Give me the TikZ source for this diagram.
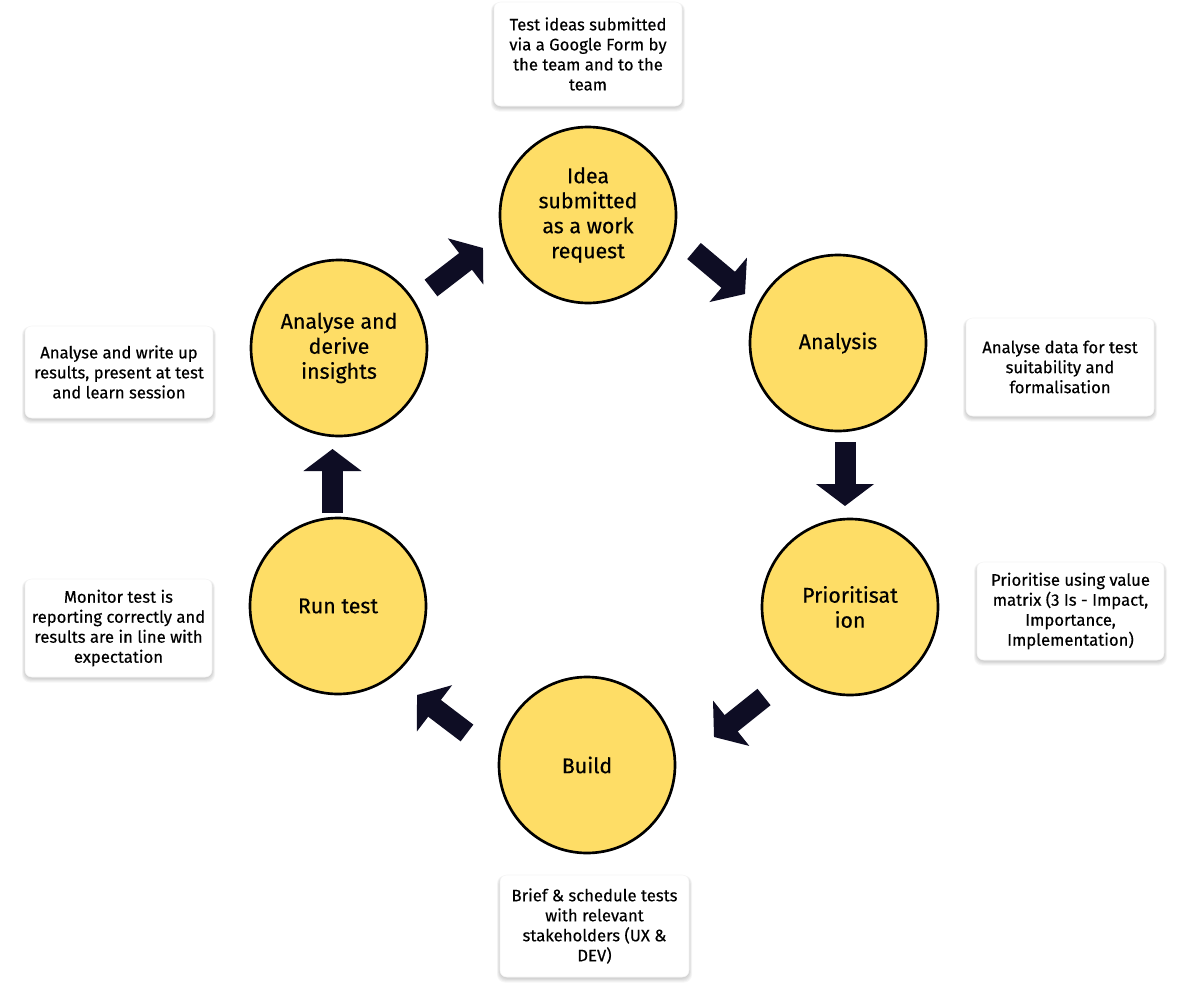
\documentclass[tikz,border=0pt]{standalone}
\usepackage{fontspec}
\setmainfont{Fira Sans}[FakeBold=0.35]
\usetikzlibrary{arrows.meta,calc}
\definecolor{circfill}{RGB}{254,221,102}
\definecolor{arrowcol}{RGB}{14,13,36}
\tikzset{
 stage/.style={circle, draw=black, line width=2pt, fill=circfill, minimum size=132pt, inner sep=0pt, align=center, font=\fontsize{16}{18.75}\selectfont},
 note/.style={rectangle, rounded corners=5pt, fill=white, draw=black!4, line width=0.4pt, inner sep=0pt, align=center, font=\fontsize{12.5}{15}\selectfont},
 flow/.style={arrowcol, line width=15.75pt, -{Triangle[length=16.5pt, width=42.75pt]}},
}
\newcommand\notebox[6]{%
 \foreach \k in {1,...,5}{\fill[black, opacity=0.035, rounded corners=6pt] ({#2-#4/2-\k*0.6},{#3-#5/2+2-\k*0.3}) rectangle ({#2+#4/2+\k*0.6},{#3+#5/2+1+\k*0.9});}
 \node[note, minimum width=#4*0.75pt, minimum height=#5*0.75pt] (#1) at (#2,#3) {#6};
}
\begin{document}
\begin{tikzpicture}[x=0.75pt,y=-0.75pt]
\useasboundingbox[fill=white] (0,0) rectangle (1190,989);
% stages
\node[stage] (idea) at (588,215) {Idea\\submitted\\as a work\\request};
\node[stage] (analysis) at (838,343) {Analysis};
\node[stage] (prior) at (850,607) {Prioritisat\\ion};
\node[stage] (build) at (587,765) {Build};
\node[stage] (run) at (338,606) {Run test};
\node[stage] (insight) at (339,348) {Analyse and\\derive\\insights};
% notes
\notebox{nidea}{588}{54}{188}{104}{Test ideas submitted\\via a Google Form by\\the team and to the\\team}
\notebox{nanalysis}{1060}{367}{188}{98}{Analyse data for test\\suitability and\\formalisation}
\notebox{nprior}{1070.5}{611}{187}{98}{Prioritise using value\\matrix (3 Is - Impact,\\Importance,\\Implementation)}
\notebox{nbuild}{594.5}{926}{189}{102}{Brief \& schedule tests\\with relevant\\stakeholders (UX \&\\DEV)}
\notebox{nrun}{118.5}{628}{187}{98}{Monitor test is\\reporting correctly and\\results are in line with\\expectation}
\notebox{ninsight}{119}{372}{188}{92}{Analyse and write up\\results, present at test\\and learn session}
% arrow end points
\coordinate (a1s) at (431,288); \coordinate (a1e) at (483,248);
\coordinate (a2s) at (694,251); \coordinate (a2e) at (745,294);
\coordinate (a3s) at (845,442); \coordinate (a3e) at (845,506);
\coordinate (a4s) at (764,697); \coordinate (a4e) at (714,737);
\coordinate (a5s) at (467,733); \coordinate (a5e) at (417,695);
\coordinate (a6s) at (332.5,513); \coordinate (a6e) at (332.5,449);
\draw[flow] (a1s) -- (a1e);
\draw[flow] (a2s) -- (a2e);
\draw[flow] (a3s) -- (a3e);
\draw[flow] (a4s) -- (a4e);
\draw[flow] (a5s) -- (a5e);
\draw[flow] (a6s) -- (a6e);
\end{tikzpicture}
\end{document}
